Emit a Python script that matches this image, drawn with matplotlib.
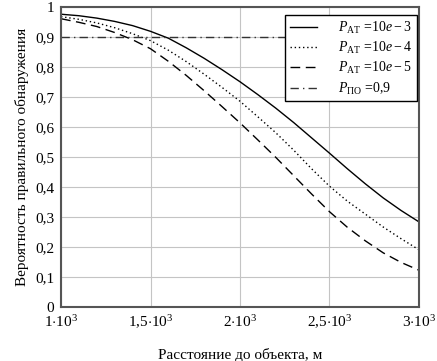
import matplotlib.pyplot as plt
import numpy as np

plt.rcParams['font.family'] = 'Liberation Serif'
plt.rcParams['mathtext.fontset'] = 'custom'
plt.rcParams['mathtext.rm'] = 'Liberation Serif'
plt.rcParams['mathtext.it'] = 'Liberation Serif:italic'

# distance, m
distance = [1000, 1100, 1200, 1300, 1400, 1500, 1600, 1700, 1800, 1900, 2000,
            2100, 2200, 2300, 2400, 2500, 2600, 2700, 2800, 2900, 3000]
# detection probability for different false alarm probabilities
p_1e3 = [0.975, 0.970, 0.962, 0.951, 0.937, 0.918, 0.895, 0.863, 0.828, 0.790, 0.750,
         0.707, 0.662, 0.614, 0.563, 0.512, 0.460, 0.410, 0.363, 0.321, 0.283]
p_1e4 = [0.967, 0.958, 0.946, 0.930, 0.910, 0.887, 0.855, 0.817, 0.775, 0.731, 0.685,
         0.633, 0.580, 0.522, 0.460, 0.402, 0.352, 0.309, 0.266, 0.227, 0.190]
p_1e5 = [0.960, 0.948, 0.934, 0.914, 0.890, 0.860, 0.818, 0.771, 0.720, 0.667, 0.613,
         0.556, 0.498, 0.437, 0.376, 0.317, 0.265, 0.220, 0.180, 0.148, 0.122]
p_required = 0.9

xticks = [1000, 1500, 2000, 2500, 3000]
xticklabels = [r'$1{\cdot}10^3$', r'$1{,}5{\cdot}10^3$', r'$2{\cdot}10^3$',
               r'$2{,}5{\cdot}10^3$', r'$3{\cdot}10^3$']
yticks = np.round(np.arange(0, 1.01, 0.1), 1)
yticklabels = ['0' if v == 0 else ('1' if v == 1 else f'{v:.1f}'.replace('.', ','))
               for v in yticks]

fig = plt.figure(figsize=(4.37, 3.61), dpi=100)
ax = fig.add_axes([0.1396, 0.150, 0.8192, 0.8314])

ax.plot(distance, p_1e3, color='black', lw=1.0,
        label=r'$P_{\mathrm{АТ}}$ =10$e-3$')
ax.plot(distance, p_1e4, color='black', lw=1.0,
        ls=(0, (1, 2)), label=r'$P_{\mathrm{АТ}}$ =10$e-4$')
ax.plot(distance, p_1e5, color='black', lw=1.0,
        ls=(0, (7, 4)), label=r'$P_{\mathrm{АТ}}$ =10$e-5$')
ax.axhline(p_required, color='#333333', lw=1.0, ls=(0, (6, 3, 1, 3)),
           label=r'$P_{\mathrm{ПО}}$ =0,9')

ax.set_xlim(1000, 3000)
ax.set_ylim(0, 1)
ax.set_xticks(xticks)
ax.set_xticklabels(xticklabels, fontsize=11)
ax.set_yticks(yticks)
ax.set_yticklabels(yticklabels, fontsize=11)
ax.tick_params(length=0, pad=5)
ax.grid(True, color='#c4c4c4', lw=0.8)
for s in ax.spines.values():
    s.set_color('#555555')
    s.set_linewidth(1.5)

ax.set_xlabel('Расстояние до объекта, м', fontsize=11, labelpad=12)
ax.set_ylabel('Вероятность правильного обнаружения', fontsize=11, labelpad=4)

leg = ax.legend(loc='upper right', bbox_to_anchor=(0.994, 0.973), fontsize=10,
                frameon=True, fancybox=False, edgecolor='black', framealpha=1,
                handlelength=2.0, handletextpad=1.5, borderpad=0.35,
                labelspacing=0.3, borderaxespad=0)
leg.get_frame().set_linewidth(1.0)

fig.savefig('out.png', dpi=100)
